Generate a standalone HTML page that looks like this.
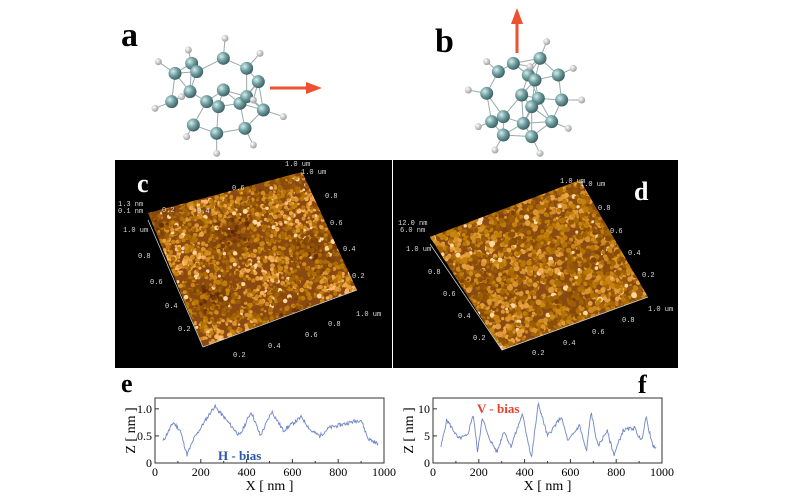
<!DOCTYPE html>
<html><head><meta charset="utf-8"><style>
html,body{margin:0;padding:0;background:#fff;width:800px;height:504px;overflow:hidden}
svg text{font-family:"Liberation Serif",serif}
.m{font-family:"Liberation Mono",monospace;font-size:7px;fill:#ddd}
</style></head><body>
<svg id="s" width="800" height="504" viewBox="0 0 800 504" xmlns="http://www.w3.org/2000/svg">
<defs>
<radialGradient id="cg" cx="0.35" cy="0.35" r="0.7"><stop offset="0" stop-color="#d8ecec"/><stop offset="0.5" stop-color="#6e9ea0"/><stop offset="1" stop-color="#3a5a5c"/></radialGradient>
<radialGradient id="hg" cx="0.35" cy="0.35" r="0.7"><stop offset="0" stop-color="#fff"/><stop offset="1" stop-color="#999"/></radialGradient>
<clipPath id="pc"><polygon points="148,213 302,172 357,290 203,347"/></clipPath>
<clipPath id="pd"><polygon points="430,237 580,180 648,297 502,350"/></clipPath>
</defs>
<rect x="115" y="160" width="277" height="208" fill="#000"/>
<rect x="393" y="160" width="285" height="208" fill="#000"/>
<g clip-path="url(#pc)" id="gc"><rect x="140" y="165" width="225" height="190" fill="#8a4812"/></g>
<g clip-path="url(#pd)" id="gd"><rect x="425" y="175" width="230" height="180" fill="#8a4a14"/></g>
<g stroke="#ccc" stroke-width="0.8" fill="none">
<polyline points="148,220 203,347 357,290"/>
<polyline points="430,244 502,350 648,297"/>
</g>
<text x="137" y="192" font-size="26" font-weight="bold" fill="#fff">c</text>
<text x="634" y="200" font-size="26" font-weight="bold" fill="#fff">d</text>
<g>
<text x="118" y="206" class="m">1.3 nm</text><text x="118" y="213" class="m">0.1 nm</text><text x="123" y="232" class="m">1.0 um</text>
<text x="285" y="166" class="m">1.0 um</text><text x="301" y="174" class="m">1.0 um</text>
<text x="325" y="198" class="m">0.8</text><text x="330" y="225" class="m">0.6</text><text x="343" y="251" class="m">0.4</text><text x="352" y="278" class="m">0.2</text>
<text x="356" y="316" class="m">1.0 um</text><text x="328" y="326" class="m">0.8</text><text x="305" y="337" class="m">0.6</text><text x="268" y="348" class="m">0.4</text><text x="233" y="357" class="m">0.2</text>
<text x="138" y="258" class="m">0.8</text><text x="150" y="284" class="m">0.6</text><text x="165" y="308" class="m">0.4</text><text x="178" y="331" class="m">0.2</text>
<text x="197" y="213" class="m">0.4</text><text x="162" y="212" class="m">0.2</text><text x="232" y="190" class="m">0.6</text>
<text x="398" y="225" class="m">12.0 nm</text><text x="400" y="232" class="m">6.0 nm</text><text x="406" y="251" class="m">1.0 um</text>
<text x="560" y="183" class="m">1.0 um</text><text x="580" y="186" class="m">1.0 um</text>
<text x="598" y="210" class="m">0.8</text><text x="610" y="233" class="m">0.6</text><text x="628" y="255" class="m">0.4</text><text x="642" y="277" class="m">0.2</text>
<text x="648" y="311" class="m">1.0 um</text><text x="622" y="322" class="m">0.8</text><text x="592" y="334" class="m">0.6</text><text x="563" y="345" class="m">0.4</text><text x="532" y="355" class="m">0.2</text>
<text x="428" y="274" class="m">0.8</text><text x="443" y="296" class="m">0.6</text><text x="458" y="318" class="m">0.4</text><text x="473" y="340" class="m">0.2</text>
</g>
<text x="121" y="46" font-size="34" font-weight="bold" fill="#000">a</text>
<text x="435" y="52" font-size="34" font-weight="bold" fill="#000">b</text>
<line x1="270" y1="88" x2="308" y2="88" stroke="#ee5030" stroke-width="3"/>
<polygon points="306,82 322,88 306,94" fill="#ee5030"/>
<line x1="517" y1="53" x2="517" y2="22" stroke="#ee5030" stroke-width="3"/>
<polygon points="511,24 517,8 523,24" fill="#ee5030"/>
<g id="mol"></g>
<text x="121" y="392" font-size="26" font-weight="bold" fill="#000">e</text>
<text x="638" y="393" font-size="26" font-weight="bold" fill="#000">f</text>
<g id="ch"></g>
</svg>
<script>
var NS="http://www.w3.org/2000/svg",s=document.getElementById('s');
function el(t,a,p){var e=document.createElementNS(NS,t);for(var k in a)e.setAttribute(k,a[k]);(p||s).appendChild(e);return e}
var R=12345;function rnd(){R=(R*1103515245+12345)%2147483648;return R/2147483648}
// textures
function tex(g,x0,y0,w,h,n,big,bright){
 for(var i=0;i<n;i++){var x=x0+rnd()*w,y=y0+rnd()*h;
  var m=0.5+0.25*Math.sin(x*0.07+y*0.03)+0.25*Math.sin(y*0.09-x*0.02+1);
  if(!big)m=0.5+0.5*(m-0.5)*0.6;
  var v=rnd()*0.6+m*0.5;if(bright&&rnd()<0.03)v=1.2;
  var r=Math.round(Math.min(255,90+v*170)),gg=Math.round(Math.min(240,35+v*150)),b=Math.round(Math.min(200,5+Math.max(0,v-0.6)*260));
  el('circle',{cx:x.toFixed(1),cy:y.toFixed(1),r:(big?1.2+rnd()*1.3:1.3+rnd()*1.8).toFixed(1),fill:'rgb('+r+','+gg+','+b+')'},g)}
}
tex(document.getElementById('gc'),140,165,225,190,4200,true,true);
tex(document.getElementById('gd'),425,175,230,180,4000,false,true);
var mol=document.getElementById('mol');
var A={C:[[225,220],[275,190],[290,215],[370,175],[440,205],[475,245],[270,275],[370,270],[215,305],[320,305],[355,320],[420,310],[440,290],[490,330],[280,375],[350,400],[435,385],
[1195,215],[1240,190],[1320,175],[1375,225],[1285,225],[1305,240],[1160,280],[1265,285],[1315,295],[1385,300],[1295,320],[1175,365],[1210,350],[1270,370],[1355,365],[1210,405],[1295,410]],
H:[[265,150],[375,115],[480,160],[175,185],[165,325],[245,290],[460,300],[550,350],[260,410],[350,460],[460,435],
[1340,125],[1160,185],[1420,205],[1105,270],[1445,300],[1135,380],[1405,385],[1185,450],[1320,460],[1290,200]]};
function tr(p){return [p[0]/3+100,p[1]/3]}
var all=A.C.map(function(p){return [tr(p),'C']}).concat(A.H.map(function(p){return [tr(p),'H']}));
for(var i=0;i<all.length;i++)for(var j=i+1;j<all.length;j++){var a=all[i][0],b=all[j][0],d=Math.hypot(a[0]-b[0],a[1]-b[1]);
if((all[i][1]=='C'&&all[j][1]=='C'&&d<30)||(all[i][1]!=all[j][1]&&d<22))el('line',{x1:a[0],y1:a[1],x2:b[0],y2:b[1],stroke:'#9aa',"stroke-width":1},mol)}
all.forEach(function(q){var p=q[0];el('circle',{cx:p[0],cy:p[1],r:q[1]=='C'?6.5:3.5,fill:q[1]=='C'?'url(#cg)':'url(#hg)'},mol)});
var ch=document.getElementById('ch');
function chart(x0,x1,y0,y1,ymax,ticks,seed,fn){
 el('rect',{x:x0,y:y0,width:x1-x0,height:y1-y0,fill:'#fff',stroke:'#333',"stroke-width":1},ch);
 for(var v=0;v<=1000;v+=100){var x=x0+(x1-x0)*v/1000;el('line',{x1:x,y1:y1,x2:x,y2:y1-(v%200?2:4),stroke:'#333'},ch);
 if(v%200==0){var t=el('text',{x:x,y:y1+13,"font-size":12,"text-anchor":"middle"},ch);t.textContent=v}}
 ticks.forEach(function(tv){var y=y1-(y1-y0)*tv[0]/ymax;el('line',{x1:x0,y1:y,x2:x0+4,y2:y,stroke:'#333'},ch);
 var t=el('text',{x:x0-3,y:y+4,"font-size":12,"text-anchor":"end"},ch);t.textContent=tv[1]});
 var t=el('text',{x:(x0+x1)/2,y:y1+27,"font-size":14,"text-anchor":"middle"},ch);t.textContent="X [ nm ]";
 t=el('text',{x:0,y:0,"font-size":14,"text-anchor":"middle",transform:"translate("+(x0-20)+","+((y0+y1)/2)+") rotate(-90)"},ch);t.textContent="Z  [ nm ]";
 var pts=[],r=seed;function rn(){r=(r*9301+49297)%233280;return r/233280}
 for(var xv=35;xv<=975;xv+=3){var z=fn(xv)+(rn()-0.5)*ymax*0.06;pts.push((x0+(x1-x0)*xv/1000).toFixed(1)+","+(y1-(y1-y0)*z/ymax).toFixed(1))}
 el('polyline',{points:pts.join(' '),fill:'none',stroke:'#6f86c8',"stroke-width":0.9},ch);
}
function interp(k){return function(x){for(var i=0;i<k.length-1;i++)if(x<=k[i+1][0]){var f=(x-k[i][0])/(k[i+1][0]-k[i][0]);return k[i][1]+(k[i+1][1]-k[i][1])*f}return k[k.length-1][1]}}
chart(155,384,398,463,1.2,[[0,"0"],[0.5,"0.5"],[1,"1.0"]],11,interp([[35,0.4],[80,0.75],[110,0.6],[140,0.15],[170,0.45],[260,1.05],[300,0.85],[350,0.6],[370,0.5],[420,0.95],[460,0.5],[510,0.95],[560,0.6],[640,0.85],[680,0.6],[720,0.5],[760,0.65],[900,0.8],[930,0.45],[975,0.35]]));
chart(433,662,398,463,12,[[0,"0"],[5,"5"],[10,"10"]],5,interp([[35,3],[60,8],[90,6],[110,4.5],[150,5],[175,9],[195,2],[215,8.5],[240,5],[280,2],[310,6],[340,3],[390,9],[430,1],[460,11],[500,5],[560,8.5],[590,4],[640,7],[670,2],[690,9.5],[720,3],[760,6],[790,1.5],[830,6],[880,6.5],[910,4],[930,8.5],[960,3]]));
var t=el('text',{x:218,y:460,"font-size":13,"font-weight":"bold",fill:"#2a56a8"},ch);t.textContent="H - bias";
t=el('text',{x:477,y:413,"font-size":13,"font-weight":"bold",fill:"#e8402a"},ch);t.textContent="V - bias";
</script>
</body></html>
